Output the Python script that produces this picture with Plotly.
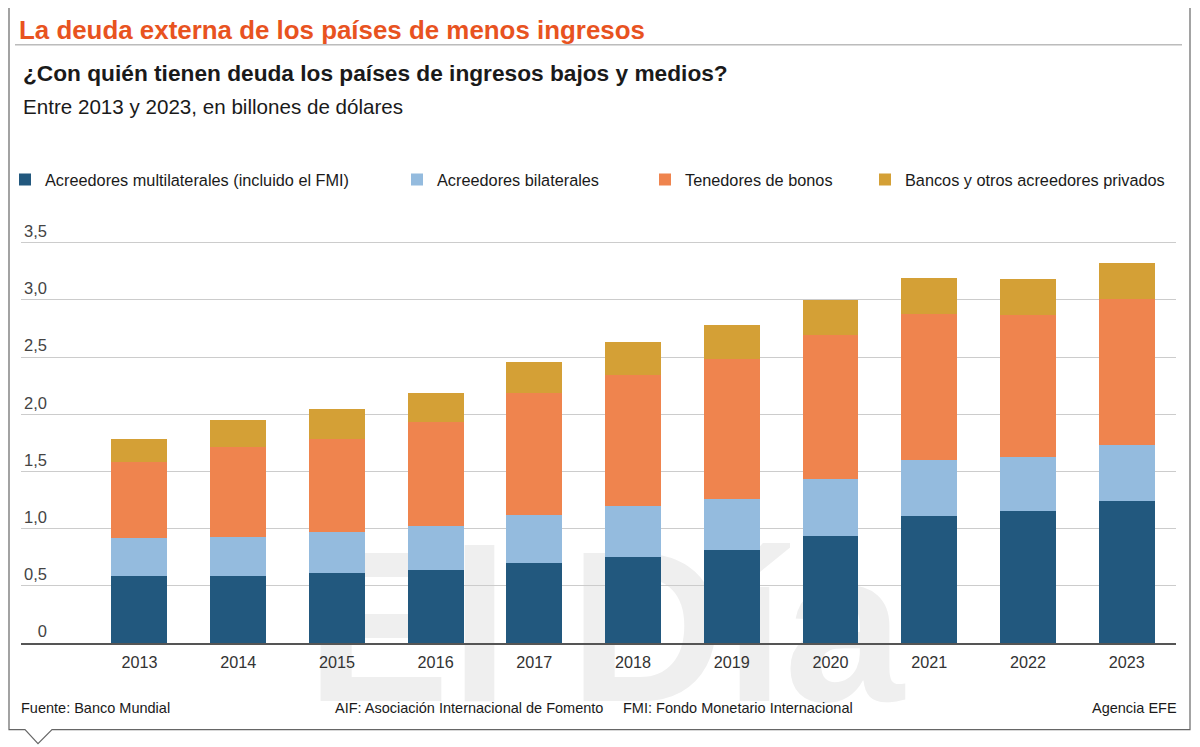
import plotly.graph_objects as go

# Data (billones de dólares)
years = ["2013", "2014", "2015", "2016", "2017", "2018", "2019", "2020", "2021", "2022", "2023"]
multilaterales = [0.59, 0.59, 0.61, 0.64, 0.70, 0.75, 0.81, 0.94, 1.11, 1.15, 1.24]
bilaterales = [0.33, 0.34, 0.36, 0.38, 0.42, 0.45, 0.45, 0.49, 0.49, 0.48, 0.49]
bonos = [0.66, 0.78, 0.81, 0.91, 1.07, 1.14, 1.22, 1.26, 1.28, 1.24, 1.28]
bancos = [0.20, 0.24, 0.27, 0.26, 0.27, 0.29, 0.30, 0.31, 0.31, 0.31, 0.31]

series_names = [
    "Acreedores multilaterales (incluido el FMI)",
    "Acreedores bilaterales",
    "Tenedores de bonos",
    "Bancos y otros acreedores privados",
]
y_tickvals = [0, 0.5, 1.0, 1.5, 2.0, 2.5, 3.0, 3.5]
y_ticktext = ["\u2007\u20080", "0,5", "1,0", "1,5", "2,0", "2,5", "3,0", "3,5"]

W, H = 1200, 747
# the page body adds an 8px offset, so the figure is drawn shifted back by it
OFF = 8
# plot area in reference pixels
L, R, T, B = 21, 1176, 237.2, 643.3

SANS = "Liberation Sans, Arial, Helvetica, sans-serif"


def px(x):
    return (x - L) / (R - L)


def py(y):
    return (B - y) / (B - T)


colors = ["#22587E", "#94BBDE", "#EF844E", "#D4A036"]
values = [multilaterales, bilaterales, bonos, bancos]
legend_ids = ["legend", "legend2", "legend3", "legend4"]
legend_x = [5, 397, 645, 865]

fig = go.Figure()
for name, vals, col, lid in zip(series_names, values, colors, legend_ids):
    fig.add_trace(go.Bar(
        x=years,
        y=vals,
        name=name,
        marker_color=col,
        marker_line_width=0,
        legend=lid,
    ))

legend_style = dict(
    orientation="h",
    yanchor="middle",
    y=py(180),
    xanchor="left",
    font=dict(family=SANS, size=16.3, color="#1a1a1a"),
    bgcolor="rgba(0,0,0,0)",
)
layout_legends = {}
for lid, lx in zip(legend_ids, legend_x):
    layout_legends[lid] = dict(legend_style, x=px(lx))

# frame with small pointer at the bottom left
frame_path = (
    f"M {px(9)},{py(7)} L {px(1190)},{py(7)} L {px(1190)},{py(730)} "
    f"L {px(52)},{py(730)} L {px(38)},{py(744)} L {px(25)},{py(730)} "
    f"L {px(9)},{py(730)} Z"
)

annotations = [
    dict(text="<b>La deuda externa de los países de menos ingresos</b>",
         x=px(17), y=py(30), xanchor="left", yanchor="middle",
         font=dict(family=SANS, size=25.9, color="#E8531F")),
    dict(text="<b>¿Con quién tienen deuda los países de ingresos bajos y medios?</b>",
         x=px(21), y=py(73), xanchor="left", yanchor="middle",
         font=dict(family=SANS, size=22.7, color="#1a1a1a")),
    dict(text="Entre 2013 y 2023, en billones de dólares",
         x=px(21), y=py(107), xanchor="left", yanchor="middle",
         font=dict(family=SANS, size=20.6, color="#1a1a1a")),
    dict(text="Fuente: Banco Mundial",
         x=px(19), y=py(708), xanchor="left", yanchor="middle",
         font=dict(family=SANS, size=14.5, color="#1a1a1a")),
    dict(text="AIF: Asociación Internacional de Fomento",
         x=px(333), y=py(708), xanchor="left", yanchor="middle",
         font=dict(family=SANS, size=14.5, color="#1a1a1a")),
    dict(text="FMI: Fondo Monetario Internacional",
         x=px(621), y=py(708), xanchor="left", yanchor="middle",
         font=dict(family=SANS, size=14.5, color="#1a1a1a")),
    dict(text="Agencia EFE",
         x=px(1179), y=py(708), xanchor="right", yanchor="middle",
         font=dict(family=SANS, size=14.5, color="#1a1a1a")),
]
for a in annotations:
    a.update(xref="paper", yref="paper", showarrow=False)

fig.update_layout(
    width=W,
    height=H,
    barmode="stack",
    bargap=0.433,
    plot_bgcolor="white",
    paper_bgcolor="white",
    margin=dict(l=L - OFF, r=W - (R - OFF), t=T - OFF, b=H - (B - OFF),
                pad=0, autoexpand=False),
    font=dict(family=SANS, color="#333"),
    showlegend=True,
    annotations=annotations,
    shapes=[
        # faint "El Día" watermark behind the bars
        dict(type="rect", xref="paper", yref="paper",
             x0=px(300), x1=px(910), y0=py(702), y1=py(512),
             line=dict(width=0), fillcolor="rgba(0,0,0,0)", layer="below",
             label=dict(text="El Día", textposition="middle center",
                        font=dict(family=SANS, size=215, weight=700, color="#efefef"))),
        dict(type="path", path=frame_path, xref="paper", yref="paper",
             line=dict(color="#666", width=1.2), fillcolor="rgba(0,0,0,0)", layer="below"),
        dict(type="line", xref="paper", yref="paper",
             x0=px(15), x1=px(1182), y0=py(45), y1=py(45),
             line=dict(color="#999", width=1)),
    ],
    **layout_legends,
)

fig.update_xaxes(
    type="category",
    range=[-1.2, 10.5],
    showgrid=False,
    showline=True,
    linecolor="#555",
    linewidth=1.5,
    ticks="",
    tickfont=dict(family=SANS, size=16.2, color="#333"),
    ticklabelstandoff=4,
    fixedrange=True,
)
fig.update_yaxes(
    range=[0, 3.55],
    tickvals=y_tickvals,
    ticktext=y_ticktext,
    ticklabelposition="inside top",
    ticklabeloverflow="allow",
    tickfont=dict(family=SANS, size=16.5, color="#444"),
    showgrid=True,
    gridcolor="#cccccc",
    gridwidth=1,
    zeroline=False,
    showline=False,
    ticks="",
    fixedrange=True,
)

fig.write_html("out.html")
